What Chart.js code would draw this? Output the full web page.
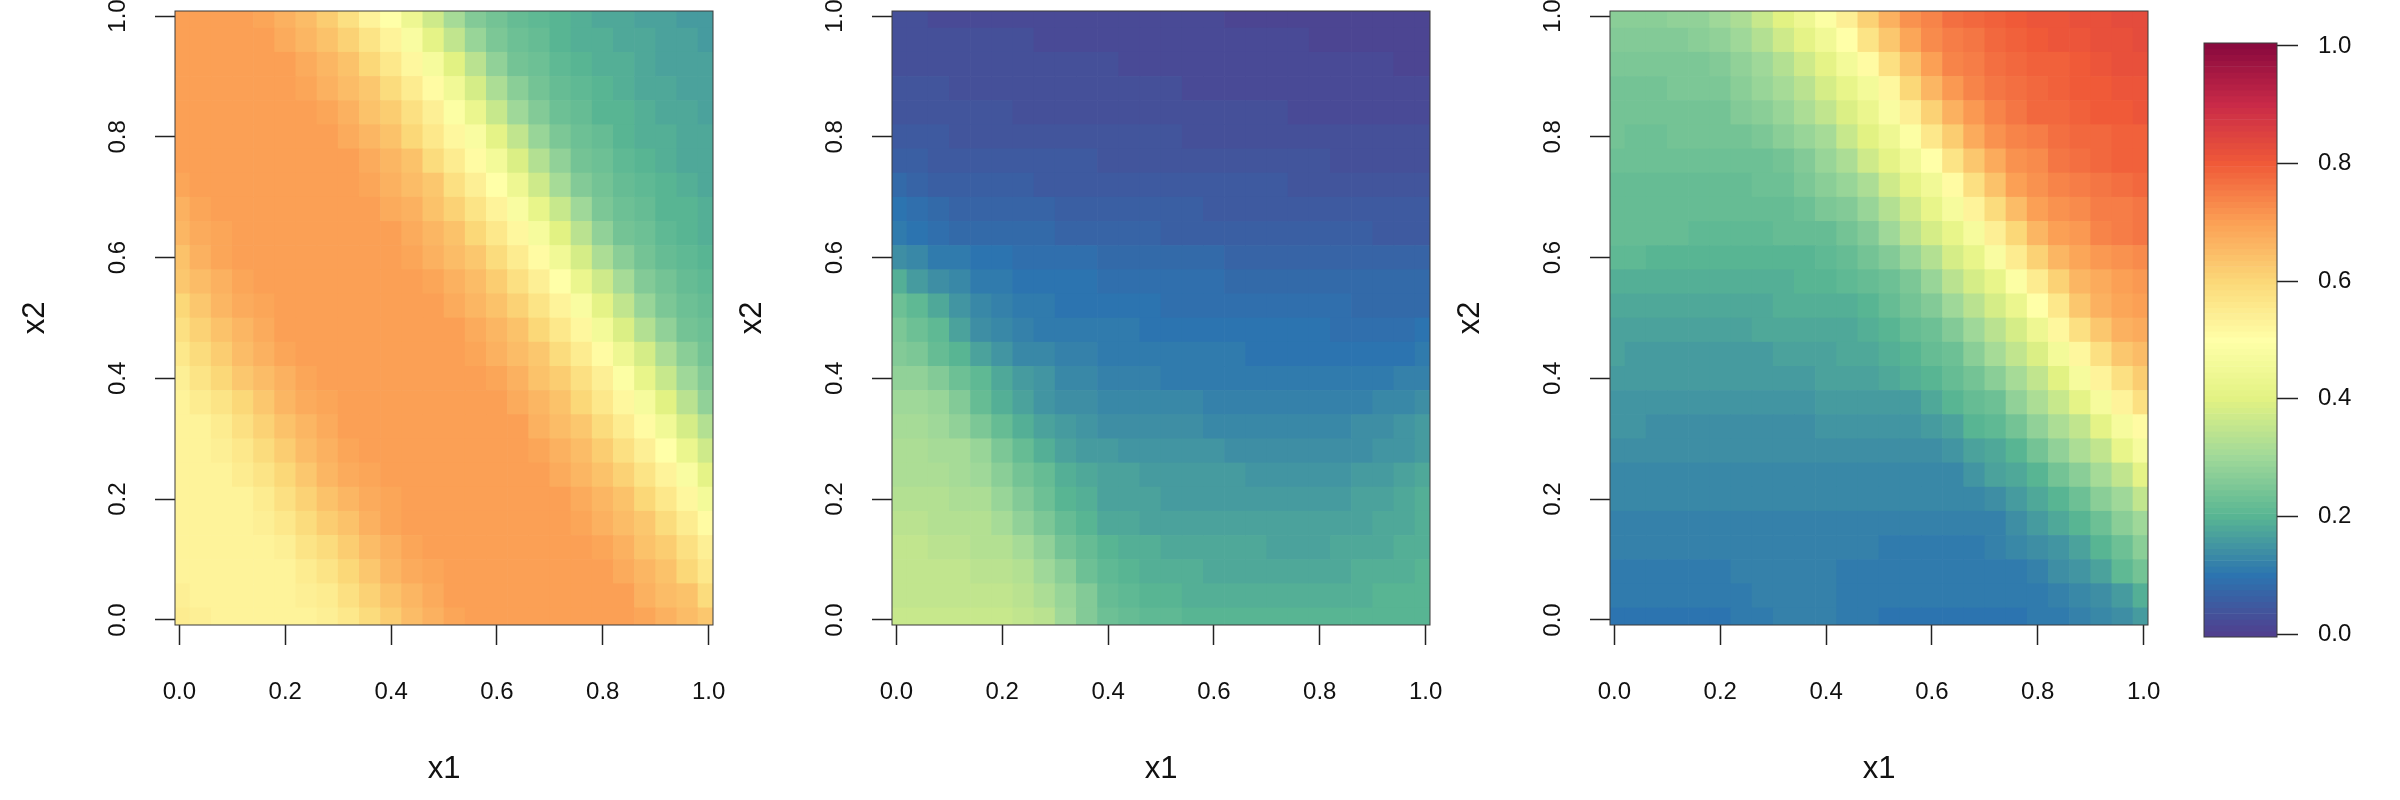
<!DOCTYPE html>
<html>
<head>
<meta charset="utf-8">
<title>x1 x2 probability surfaces</title>
<script src="https://cdn.jsdelivr.net/npm/chart.js@4"></script>
<style>
    body { margin: 0; background: #fff; width: 2400px; height: 800px; position: relative; overflow: hidden; }
    canvas { position: absolute; top: 0; }
</style>
</head>
<body>
<canvas id="panel1" width="740" height="800" style="left:0"></canvas>
<canvas id="panel2" width="740" height="800" style="left:717px"></canvas>
<canvas id="panel3" width="740" height="800" style="left:1435px"></canvas>
<canvas id="colorbar" width="240" height="800" style="left:2160px"></canvas>
<script>
const x1Values = [0, .04, .08, .12, .16, .2, .24, .28, .32, .36, .4, .44, .48, .52, .56, .6, .64, .68, .72, .76, .8, .84, .88, .92, .96, 1];
const x2Values = [1, .96, .92, .88, .84, .8, .76, .72, .68, .64, .6, .56, .52, .48, .44, .4, .36, .32, .28, .24, .2, .16, .12, .08, .04, 0];
const tickValues = [0, .2, .4, .6, .8, 1];

// percent values per row, top row is x2 = 1
const panel1Rows = [
    [70,70,70,70,69,67,65,62,58,53,50,44,37,31,26,24,22,21,20,19,18,18,17,17,16,16],
    [70,70,70,70,70,68,66,64,61,57,53,48,41,35,29,25,23,22,20,19,19,18,18,17,17,16],
    [70,70,70,70,70,70,68,66,64,60,56,52,47,40,34,28,24,23,21,20,19,19,18,17,17,17],
    [70,70,70,70,70,70,69,67,65,63,59,55,51,45,38,32,27,24,22,21,20,19,18,18,17,17],
    [70,70,70,70,70,70,70,69,67,64,62,58,54,49,43,36,30,26,23,22,20,20,19,18,18,17],
    [70,70,70,70,70,70,70,70,68,66,64,60,56,52,48,41,35,29,25,23,22,20,19,19,18,18],
    [70,70,70,70,70,70,70,70,70,68,66,64,59,55,51,46,39,33,28,24,23,21,20,19,18,18],
    [69,70,70,70,70,70,70,70,70,69,67,65,63,58,54,50,44,37,31,26,24,22,21,20,19,18],
    [67,69,70,70,70,70,70,70,70,70,68,67,64,61,57,53,48,42,36,30,25,23,22,20,20,19],
    [66,68,69,70,70,70,70,70,70,70,70,68,66,64,60,56,52,47,40,34,28,24,23,21,20,19],
    [64,67,69,70,70,70,70,70,70,70,70,69,67,65,63,59,55,51,45,38,32,27,24,22,21,20],
    [63,65,67,69,70,70,70,70,70,70,70,70,69,67,65,62,58,54,50,43,37,31,26,24,22,21],
    [60,63,66,68,69,70,70,70,70,70,70,70,70,68,66,64,61,57,53,48,41,35,29,25,23,22],
    [58,61,64,66,68,70,70,70,70,70,70,70,70,70,68,66,64,60,56,52,46,39,33,28,24,23],
    [56,59,62,65,67,69,70,70,70,70,70,70,70,70,69,67,65,63,59,55,51,44,38,32,27,24],
    [54,57,60,63,65,67,69,70,70,70,70,70,70,70,70,69,67,64,62,58,54,49,42,36,30,26],
    [53,55,57,60,63,66,68,69,70,70,70,70,70,70,70,70,68,66,64,60,56,52,47,40,34,28],
    [53,53,55,58,61,64,66,68,70,70,70,70,70,70,70,70,70,67,65,63,59,55,51,45,38,33],
    [53,53,54,56,59,62,65,67,69,70,70,70,70,70,70,70,70,69,67,65,62,58,54,50,43,37],
    [53,53,53,55,57,60,63,66,68,69,70,70,70,70,70,70,70,70,68,66,64,61,57,53,48,41],
    [53,53,53,53,55,58,61,64,66,68,69,70,70,70,70,70,70,70,70,68,66,64,60,56,52,46],
    [53,53,53,53,54,56,59,62,64,67,69,70,70,70,70,70,70,70,70,69,67,65,63,59,55,51],
    [53,53,53,53,53,54,57,59,62,65,67,69,70,70,70,70,70,70,70,70,69,67,64,62,58,54],
    [53,53,53,53,53,53,55,57,60,63,66,68,69,70,70,70,70,70,70,70,70,68,66,64,60,56],
    [54,53,53,53,53,53,54,55,58,61,64,66,68,70,70,70,70,70,70,70,70,70,67,65,64,59],
    [55,54,53,53,53,53,53,54,56,59,62,65,67,69,70,70,70,70,70,70,70,70,69,67,65,63]
];
const panel2Rows = [
    [3,3,2,2,2,2,2,2,2,2,2,2,2,2,2,2,1,1,1,1,1,1,1,1,1,1],
    [3,3,3,3,3,3,3,2,2,2,2,2,2,2,2,2,2,2,2,2,1,1,1,1,1,1],
    [3,3,3,3,3,3,3,3,3,3,3,2,2,2,2,2,2,2,2,2,2,2,2,2,1,1],
    [4,4,4,3,3,3,3,3,3,3,3,3,3,3,2,2,2,2,2,2,2,2,2,2,2,2],
    [4,4,4,4,4,4,3,3,3,3,3,3,3,3,3,3,3,3,3,2,2,2,2,2,2,2],
    [5,5,5,4,4,4,4,4,4,4,4,4,4,4,3,3,3,3,3,3,3,3,3,3,3,3],
    [6,6,5,5,5,5,5,5,5,5,4,4,4,4,4,4,4,4,4,4,4,3,3,3,3,3],
    [8,7,6,6,6,6,6,5,5,5,5,5,5,5,5,5,5,5,5,4,4,4,4,4,4,4],
    [10,9,8,7,7,7,7,7,6,6,6,6,6,6,6,5,5,5,5,5,5,5,5,5,5,5],
    [11,10,9,8,8,8,8,8,7,7,7,7,7,6,6,6,6,6,6,6,6,6,6,5,5,5],
    [14,13,11,11,10,10,9,9,9,9,8,8,8,8,8,8,7,7,7,7,7,7,7,7,7,7],
    [19,16,14,13,11,11,10,10,10,10,9,9,9,9,9,9,8,8,8,8,8,8,8,8,8,8],
    [23,21,18,15,13,12,11,11,10,10,10,10,10,9,9,9,9,9,9,9,9,9,8,8,8,8],
    [25,23,21,17,14,13,12,11,11,11,11,11,10,10,10,10,10,10,10,10,10,9,9,9,9,10],
    [26,25,22,20,17,15,13,13,12,12,11,11,11,11,11,11,11,10,10,10,10,10,10,10,10,11],
    [28,28,26,23,21,18,16,15,13,13,12,12,12,11,11,11,11,11,11,11,11,11,11,11,12,12],
    [30,30,29,26,22,19,17,15,14,14,13,13,13,13,13,12,12,12,12,12,12,12,12,13,13,14],
    [31,31,30,28,25,22,19,17,16,15,14,14,14,14,14,13,13,13,13,13,13,13,14,14,15,16],
    [32,32,31,31,29,25,22,19,17,16,16,15,15,15,15,15,14,14,14,14,14,14,14,15,15,16],
    [32,32,32,31,30,27,24,22,19,18,17,17,16,16,16,16,16,15,15,15,15,15,16,16,17,18],
    [33,33,33,32,32,29,26,23,20,19,17,17,17,16,16,16,16,16,16,16,16,16,17,17,18,19],
    [34,34,33,33,33,31,28,25,22,20,18,18,17,17,17,17,17,17,17,17,17,17,17,18,18,19],
    [35,35,34,34,33,33,31,28,24,22,20,19,19,18,18,18,18,18,17,17,17,18,18,18,19,19],
    [35,35,35,35,34,34,33,30,27,23,21,20,19,19,19,18,18,18,18,18,18,18,19,19,19,20],
    [35,35,35,35,35,35,34,32,29,26,22,21,20,20,19,19,19,19,19,19,19,19,19,20,20,20],
    [36,36,36,36,36,36,35,34,30,26,23,22,21,21,20,20,20,20,20,20,20,20,20,20,20,20]
];
const panel3Rows = [
    [27,27,27,28,28,30,32,36,40,44,49,54,61,67,72,74,77,78,79,80,81,81,82,82,83,83],
    [26,26,26,26,27,28,30,33,37,41,45,50,57,63,69,73,75,76,78,79,80,81,81,82,82,83],
    [25,25,25,25,25,26,28,30,33,37,41,46,51,58,64,70,74,75,77,78,79,79,80,81,82,82],
    [24,24,24,25,25,25,27,29,31,34,38,42,46,52,60,66,71,74,76,77,78,79,80,80,81,81],
    [24,24,24,24,24,24,26,27,29,32,35,39,43,48,54,61,67,71,74,76,78,78,79,80,80,81],
    [24,23,23,24,24,24,24,25,27,29,31,36,40,44,49,56,62,68,72,74,75,77,78,78,79,79],
    [23,23,23,23,23,23,23,23,24,26,29,32,37,41,45,50,57,63,68,72,73,76,77,78,79,79],
    [22,22,22,22,22,22,22,23,23,25,27,29,32,37,41,45,51,58,64,70,72,74,75,76,77,78],
    [22,22,22,22,22,22,22,22,22,23,25,26,29,33,37,42,47,53,59,65,70,72,73,75,75,76],
    [22,22,22,22,21,21,21,21,22,22,22,24,26,30,34,38,42,47,54,60,66,70,71,74,75,76],
    [21,21,20,20,20,20,20,20,20,20,21,22,24,26,29,33,38,42,48,55,61,66,69,71,72,73],
    [19,19,19,19,19,19,19,19,19,20,20,21,22,23,25,29,34,38,42,49,55,61,66,68,70,71],
    [18,18,18,18,18,18,18,18,19,19,19,19,20,22,24,26,30,34,38,43,50,56,63,67,69,70],
    [17,17,17,17,17,17,17,18,18,18,18,18,19,20,22,23,26,30,34,38,44,52,58,63,67,68],
    [17,16,16,16,16,16,16,16,17,17,17,18,18,19,20,22,23,27,31,35,39,46,52,58,63,65],
    [16,16,16,16,16,16,16,16,16,16,17,17,17,18,19,20,22,24,27,31,35,40,47,53,58,62],
    [15,15,15,15,15,15,15,15,15,15,16,16,16,16,16,18,20,22,23,28,32,36,41,47,53,58],
    [15,15,14,14,14,14,14,14,14,14,15,15,15,15,15,16,17,20,21,24,28,32,35,41,47,51],
    [14,14,14,14,14,14,14,14,14,14,14,14,14,14,14,14,15,17,18,20,24,28,32,35,42,47],
    [13,13,13,13,13,13,13,13,13,13,13,13,13,13,13,13,13,15,17,18,20,24,27,31,35,41],
    [13,13,13,13,13,13,13,13,13,13,13,13,13,13,13,13,13,13,14,16,18,20,23,27,30,35],
    [12,12,12,12,12,12,12,12,12,12,12,12,12,12,12,12,12,12,12,14,16,18,20,23,27,30],
    [12,12,12,12,12,12,12,12,12,12,12,12,12,11,11,11,11,11,12,13,14,15,17,20,23,27],
    [11,11,11,11,11,11,12,12,12,12,12,11,11,11,11,11,11,11,11,11,12,14,15,17,21,24],
    [11,11,11,11,11,11,11,12,12,12,12,11,11,11,11,11,11,11,11,11,11,12,13,14,16,19],
    [10,10,10,10,10,10,11,11,12,12,12,11,11,10,10,10,10,10,10,10,11,11,12,13,14,16]
];
const colorbarLevels = [
    0,1,2,3,4,5,6,7,8,9,10,11,12,13,14,15,16,17,18,19,20,21,22,23,24,25,26,27,28,29,30,31,32,33,34,35,36,37,38,39,40,41,42,43,44,45,46,47,48,49,
    50,51,52,53,54,55,56,57,58,59,60,61,62,63,64,65,66,67,68,69,70,71,72,73,74,75,76,77,78,79,80,81,82,83,84,85,86,87,88,89,90,91,92,93,94,95,96,97,98,99,100
];

const rampColors = [
    [80, 64, 143], [44, 116, 176], [88, 181, 147], [159, 216, 153], [226, 242, 131], [255, 255, 168],
    [251, 216, 120], [251, 160, 85], [240, 90, 56], [201, 42, 72], [138, 10, 62]
];

function rampColor(percent) {
    const pos = Math.min(Math.max(percent, 0), 100) / 10;
    const low = Math.min(Math.floor(pos), 9);
    const t = pos - low;
    const c = rampColors[low].map((v, i) => Math.round(v + (rampColors[low + 1][i] - v) * t));
    return `rgb(${c[0]},${c[1]},${c[2]})`;
}

const FONT = '"Liberation Sans", Arial, sans-serif';
const BOX_LEFT = 175;
const BOX_RIGHT = 713;
const BOX_TOP = 11;
const BOX_BOTTOM = 625;

const boxFrame = {
    id: 'boxFrame',
    afterDatasetsDraw(chart) {
        const { ctx, chartArea: a } = chart;
        ctx.save();
        ctx.strokeStyle = '#3a3a3a';
        ctx.lineWidth = 1;
        ctx.strokeRect(a.left, a.top, a.right - a.left, a.bottom - a.top);
        ctx.restore();
    }
};

function setTicks(scale) {
    scale.ticks = tickValues.map((v) => ({ value: v }));
}

// the layout would otherwise shrink the box to fit the outer tick labels
function noLabelPadding(scale) {
    scale.paddingLeft = 0;
    scale.paddingRight = 0;
    scale.paddingTop = 0;
    scale.paddingBottom = 0;
}

function drawPanel(id, rows) {
    const cells = [];
    const colors = [];
    rows.forEach((row, i) => {
        row.forEach((v, j) => {
            cells.push({ x: x1Values[j], y: [x2Values[i] - .02, x2Values[i] + .02] });
            colors.push(rampColor(v));
        });
    });
    new Chart(document.getElementById(id), {
        type: 'bar',
        data: {
            datasets: [{
                data: cells,
                backgroundColor: colors,
                barPercentage: 1,
                categoryPercentage: 1,
                borderWidth: 0
            }]
        },
        options: {
            responsive: false,
            animation: false,
            layout: { padding: { left: 0, right: 740 - BOX_RIGHT, top: BOX_TOP, bottom: 0 } },
            plugins: { legend: { display: false }, tooltip: { enabled: false } },
            scales: {
                x: {
                    type: 'linear',
                    offset: false,
                    min: -1 / 120,
                    max: 1 + 1 / 120,
                    afterBuildTicks: setTicks,
                    afterFit(scale) {
                        scale.height = 800 - BOX_BOTTOM;
                        noLabelPadding(scale);
                    },
                    border: { display: false },
                    grid: { offset: false, drawOnChartArea: false, tickLength: 20, tickColor: '#222', tickWidth: 1.5 },
                    ticks: {
                        autoSkip: false,
                        maxRotation: 0,
                        padding: 33,
                        color: '#111',
                        font: { family: FONT, size: 24 },
                        callback: (v) => v.toFixed(1)
                    },
                    title: { display: true, text: 'x1', color: '#111', font: { family: FONT, size: 31 }, padding: { top: 0, bottom: 12 } }
                },
                y: {
                    min: -1 / 120,
                    max: 1 + 1 / 120,
                    afterBuildTicks: setTicks,
                    afterFit(scale) {
                        scale.width = BOX_LEFT;
                        noLabelPadding(scale);
                    },
                    border: { display: false },
                    grid: { drawOnChartArea: false, tickLength: 20, tickColor: '#222', tickWidth: 1.5 },
                    ticks: {
                        autoSkip: false,
                        minRotation: 90,
                        maxRotation: 90,
                        crossAlign: 'center',
                        padding: 20,
                        color: '#111',
                        font: { family: FONT, size: 24 },
                        callback: (v) => v.toFixed(1)
                    },
                    title: { display: true, text: 'x2', color: '#111', font: { family: FONT, size: 31 }, padding: { top: 17, bottom: 0 } }
                }
            }
        },
        plugins: [boxFrame]
    });
}

drawPanel('panel1', panel1Rows);
drawPanel('panel2', panel2Rows);
drawPanel('panel3', panel3Rows);

new Chart(document.getElementById('colorbar'), {
    type: 'bar',
    data: {
        labels: ['level'],
        datasets: [{
            data: colorbarLevels.map((v) => ({ x: 'level', y: [(v - .5) / 100, (v + .5) / 100] })),
            backgroundColor: colorbarLevels.map(rampColor),
            barPercentage: 1,
            categoryPercentage: 1,
            borderWidth: 0
        }]
    },
    options: {
        responsive: false,
        animation: false,
        layout: { padding: { left: 44, right: 0, top: 43, bottom: 163 } },
        plugins: { legend: { display: false }, tooltip: { enabled: false } },
        scales: {
            x: { display: false },
            y: {
                position: 'right',
                min: -.005,
                max: 1.005,
                afterBuildTicks: setTicks,
                afterFit(scale) {
                    scale.width = 123;
                    noLabelPadding(scale);
                },
                border: { display: false },
                grid: { drawOnChartArea: false, tickLength: 21, tickColor: '#222', tickWidth: 1.5 },
                ticks: {
                    autoSkip: false,
                    padding: 20,
                    color: '#111',
                    font: { family: FONT, size: 24 },
                    callback: (v) => v.toFixed(1)
                }
            }
        }
    },
    plugins: [boxFrame]
});
</script>
</body>
</html>
